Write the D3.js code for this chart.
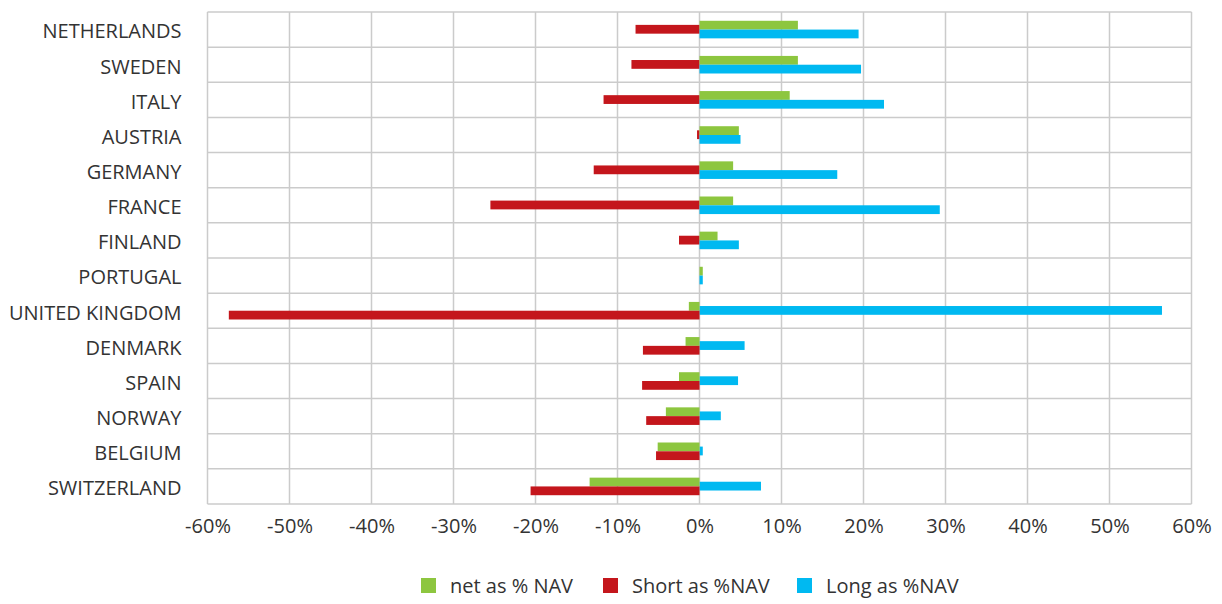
<!DOCTYPE html>
<html>
<head>
<meta charset="utf-8">
<script src="https://cdn.jsdelivr.net/npm/d3@7/dist/d3.min.js"></script>
<style>
  html, body { margin: 0; padding: 0; background: #fff; }
  svg text { font-family: "Open Sans", "Noto Sans", sans-serif; fill: #333; }
</style>
</head>
<body>
<svg id="chart" width="1222" height="604"></svg>
<script>
// Country exposures, % of NAV
const countries = ["NETHERLANDS", "SWEDEN", "ITALY", "AUSTRIA", "GERMANY", "FRANCE", "FINLAND",
  "PORTUGAL", "UNITED KINGDOM", "DENMARK", "SPAIN", "NORWAY", "BELGIUM", "SWITZERLAND"];
const netPct   = [12.0, 12.0, 11.0, 4.8, 4.1, 4.1, 2.2, 0.4, -1.3, -1.7, -2.5, -4.1, -5.1, -13.4];
const shortPct = [-7.8, -8.3, -11.7, -0.3, -12.9, -25.5, -2.5, 0, -57.4, -6.9, -7.0, -6.5, -5.3, -20.6];
const longPct  = [19.4, 19.7, 22.5, 5.0, 16.8, 29.3, 4.8, 0.4, 56.4, 5.5, 4.7, 2.6, 0.4, 7.5];
const xTicks = [-60, -50, -40, -30, -20, -10, 0, 10, 20, 30, 40, 50, 60];

const seriesNames  = ["net as % NAV", "Short as %NAV", "Long as %NAV"];
const seriesColors = ["#8dc63f", "#c4161c", "#00b9f1"];

const svg = d3.select("#chart");
const plot = { left: 207.5, right: 1191.5, top: 12, bottom: 504 };

const x = d3.scaleLinear().domain([-60, 60]).range([plot.left, plot.right]);
const y = d3.scaleBand().domain(countries).range([plot.top, plot.bottom]).padding(0);
const barH = y.bandwidth() * 0.25;
const gridColor = "#cbcbcb";
const fontSize = "20px";

// gridlines
const grid = svg.append("g");
grid.selectAll("line.v").data(xTicks).join("line")
  .attr("x1", d => x(d)).attr("x2", d => x(d))
  .attr("y1", plot.top).attr("y2", plot.bottom)
  .attr("stroke", gridColor).attr("stroke-width", 1.5);
grid.selectAll("line.h").data(d3.range(countries.length + 1)).join("line")
  .attr("x1", plot.left).attr("x2", plot.right)
  .attr("y1", i => plot.top + i * y.bandwidth()).attr("y2", i => plot.top + i * y.bandwidth())
  .attr("stroke", gridColor).attr("stroke-width", 1.5);

// Rows: net bar sits on top; the bar on net's side of zero pairs with it below,
// the other one is centred in the band.
const rows = countries.map((c, i) => ({ c, net: netPct[i], short: shortPct[i], long: longPct[i] }));
const colorOf = { net: seriesColors[0], short: seriesColors[1], long: seriesColors[2] };
const bars = [];
rows.forEach(r => {
  const mid = y(r.c) + y.bandwidth() / 2;
  const pairedKey = r.net >= 0 ? "long" : "short";
  const centredKey = r.net >= 0 ? "short" : "long";
  bars.push({ v: r[centredKey], y0: mid - barH / 2 - 0.3, color: colorOf[centredKey] });
  bars.push({ v: r.net, y0: mid - barH, color: colorOf.net });
  bars.push({ v: r[pairedKey], y0: mid, color: colorOf[pairedKey] });
});

svg.append("g").selectAll("rect").data(bars.filter(b => b.v !== 0)).join("rect")
  .attr("x", d => x(Math.min(0, d.v)))
  .attr("width", d => Math.abs(x(d.v) - x(0)))
  .attr("y", d => d.y0)
  .attr("height", barH)
  .attr("fill", d => d.color);

// category labels
const yAxis = d3.axisLeft(y).tickSize(0).tickPadding(26);
const gy = svg.append("g").attr("transform", `translate(${plot.left},2.5)`).call(yAxis);
gy.select(".domain").remove();
gy.selectAll("text").style("font-size", fontSize).style("font-weight", 400).attr("fill", "#333");

// value axis labels
const xAxis = d3.axisBottom(x).tickValues(xTicks).tickSize(0).tickPadding(15)
  .tickFormat(d => d + "%");
const gx = svg.append("g").attr("transform", `translate(0,${plot.bottom})`).call(xAxis);
gx.select(".domain").remove();
gx.selectAll("text").style("font-size", fontSize).style("font-weight", 400).attr("fill", "#333");

// legend
const legendX = [421, 603, 797];
const lg = svg.append("g").selectAll("g").data(seriesNames).join("g")
  .attr("transform", (d, i) => `translate(${legendX[i]},578)`);
lg.append("rect").attr("width", 15).attr("height", 15).attr("fill", (d, i) => seriesColors[i]);
lg.append("text").attr("x", 29).attr("y", 7.5).attr("dy", "0.35em")
  .style("font-size", fontSize).style("font-weight", 400).text(d => d);
</script>
</body>
</html>
